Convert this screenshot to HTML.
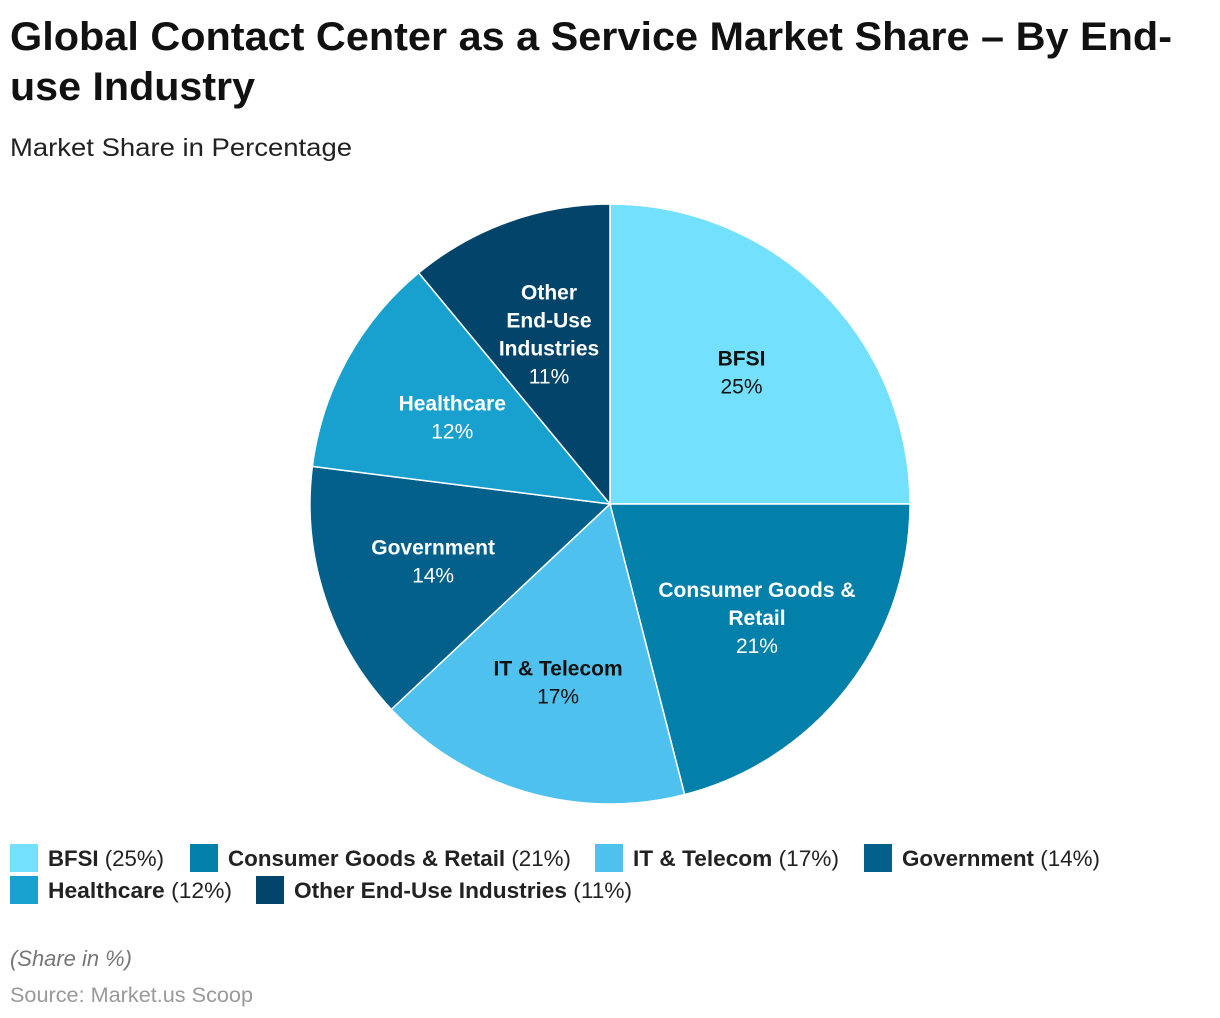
<!DOCTYPE html>
<html><head><meta charset="utf-8">
<style>
html,body{margin:0;padding:0;background:#fff;width:1220px;height:1018px;overflow:hidden}
svg{display:block;font-family:"Liberation Sans",sans-serif}
</style></head>
<body>
<svg id="chart" width="1220" height="1018" viewBox="0 0 1220 1018">
  <text x="10" y="50" font-size="40" font-weight="bold" fill="#111" textLength="1162" lengthAdjust="spacingAndGlyphs">Global Contact Center as a Service Market Share – By End-</text>
  <text x="10" y="100" font-size="40" font-weight="bold" fill="#111" textLength="245" lengthAdjust="spacingAndGlyphs">use Industry</text>
  <text x="10" y="156" font-size="25" fill="#222" textLength="342" lengthAdjust="spacingAndGlyphs">Market Share in Percentage</text>
  <g id="slices"></g>
  <g id="labels"></g>
  <g id="legend"></g>
  <text x="10" y="966" font-size="22" font-style="italic" fill="#777" textLength="122" lengthAdjust="spacingAndGlyphs">(Share in %)</text>
  <text x="10" y="1002" font-size="21" fill="#999" textLength="243" lengthAdjust="spacingAndGlyphs">Source: Market.us Scoop</text>
</svg>
<script>
const categories = ["BFSI","Consumer Goods & Retail","IT & Telecom","Government","Healthcare","Other End-Use Industries"];
const values = [25,21,17,14,12,11];
const colors = ["#73e0fe","#0380aa","#4fc1ee","#03608a","#18a1cf","#03446b"];
const labelLines = [["BFSI"],["Consumer Goods &","Retail"],["IT & Telecom"],["Government"],["Healthcare"],["Other","End-Use","Industries"]];
const labelDark = [true,false,true,false,false,false];
const legendLayout = [[10,857,116],[190,857,343],[595,857,206],[864,857,198],[10,889,184],[256,889,338]];

const NS="http://www.w3.org/2000/svg";
const cx=610, cy=504, R=300;
const total=values.reduce((a,b)=>a+b,0);
function pt(frac,r){const a=frac*2*Math.PI;return [cx+r*Math.sin(a),cy-r*Math.cos(a)];}
const gS=document.getElementById('slices'),gL=document.getElementById('labels'),gLeg=document.getElementById('legend');
let cum=0;
values.forEach((v,i)=>{
  const f0=cum/total,f1=(cum+v)/total;cum+=v;
  const [x0,y0]=pt(f0,R),[x1,y1]=pt(f1,R);
  const p=document.createElementNS(NS,'path');
  p.setAttribute('d',`M${cx},${cy}L${x0},${y0}A${R},${R} 0 ${f1-f0>0.5?1:0} 1 ${x1},${y1}Z`);
  p.setAttribute('fill',colors[i]);p.setAttribute('stroke','#fff');p.setAttribute('stroke-width','1.5');
  
  
  gS.appendChild(p);
  const rf = v<13 ? 0.6 : 0.62;
  const [lx,ly]=pt((f0+f1)/2,R*rf);
  const lines=labelLines[i];
  const n=lines.length+1;
  const startY=ly-(n-1)*28/2+7;
  const fill=labelDark[i]?"#111":"#fff";
  const t=document.createElementNS(NS,'text');
  t.setAttribute('text-anchor','middle');t.setAttribute('font-size','21');t.setAttribute('fill',fill);
  
  
  lines.forEach((ln,k)=>{const s=document.createElementNS(NS,'tspan');s.setAttribute('x',lx);s.setAttribute('y',startY+k*28);s.setAttribute('font-weight','bold');s.textContent=ln;t.appendChild(s);});
  const s=document.createElementNS(NS,'tspan');s.setAttribute('x',lx);s.setAttribute('y',startY+lines.length*28);s.textContent=v+'%';t.appendChild(s);
  gL.appendChild(t);
  // legend
  const [gx,gy,tw]=legendLayout[i];
  const g=document.createElementNS(NS,'g');
  
  
  const r=document.createElementNS(NS,'rect');
  r.setAttribute('x',gx);r.setAttribute('y',gy-13);r.setAttribute('width',28);r.setAttribute('height',28);r.setAttribute('fill',colors[i]);
  g.appendChild(r);
  const lt=document.createElementNS(NS,'text');
  lt.setAttribute('x',gx+38);lt.setAttribute('y',gy+9);lt.setAttribute('font-size','22');lt.setAttribute('fill','#222');
  lt.setAttribute('textLength',tw);lt.setAttribute('lengthAdjust','spacingAndGlyphs');
  const b=document.createElementNS(NS,'tspan');b.setAttribute('font-weight','bold');b.textContent=categories[i];lt.appendChild(b);
  const pv=document.createElementNS(NS,'tspan');pv.textContent=' ('+v+'%)';lt.appendChild(pv);
  g.appendChild(lt);gLeg.appendChild(g);
});
</script>
</body></html>
